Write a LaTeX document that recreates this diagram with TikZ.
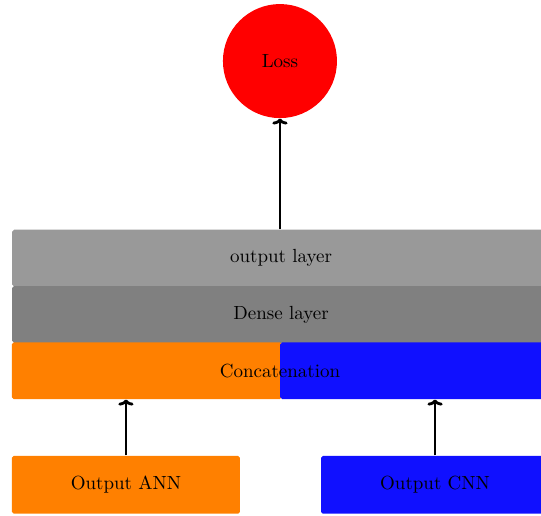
\documentclass[tikz,border=0pt]{standalone}
\usetikzlibrary{positioning, arrows.meta}
\definecolor{cnnblue}{RGB}{16,16,255}
\tikzset{
	layer/.style={rectangle, rounded corners=1pt, minimum width=9.95cm, minimum height=1.05cm, inner sep=0pt},
	outbox/.style={rectangle, rounded corners=1pt, minimum width=4.22cm, minimum height=1.07cm, inner sep=0pt},
	uparrow/.style={-{To[length=3.2pt,width=8pt]}, line width=1.5pt, black}
}
\begin{document}
\begin{tikzpicture}
	\clip (0,0) rectangle (10.01,-9.547);
	\node[circle, fill=red, minimum size=2.11cm, inner sep=0pt] (loss) at (5.18,-1.13) {Loss};
	\foreach \y/\col/\name/\txt in {
		-4.776/gray!80/out/{output layer},
		-5.818/gray/dense/{Dense layer}
	}{
		\node[layer, fill=\col] (\name) at (5.2,\y) {\txt};
	}
	% concatenation: two halves, one label
	\node[layer, fill=orange, minimum width=4.99cm] (concatA) at (2.715,-6.86) {};
	\node[layer, fill=cnnblue, minimum width=4.99cm] (concatC) at (7.68,-6.86) {};
	\node (concat) at (5.18,-6.86) {Concatenation};
	\node[outbox, fill=orange] (ann) at (2.33,-8.97) {Output ANN};
	\node[outbox, fill=cnnblue] (cnn) at (8.05,-8.97) {Output CNN};
	\draw[uparrow] (loss |- out.north) -- (loss.south);
	\foreach \b in {ann, cnn}
	{\draw[uparrow] (\b.north) -- (\b.north |- concatA.south);}
\end{tikzpicture}
\end{document}
